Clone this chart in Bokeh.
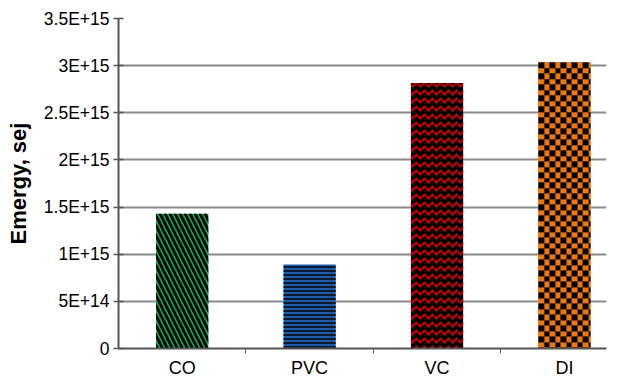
import numpy as np
from bokeh.plotting import figure
from bokeh.models import ColumnDataSource, FixedTicker, Range1d
from bokeh.embed import file_html
from bokeh.resources import INLINE

# ---- data ----
categories = ["CO", "PVC", "VC", "DI"]
emergy = [1.43e15, 0.89e15, 2.815e15, 3.035e15]
y_ticks = [0, 5e14, 1e15, 1.5e15, 2e15, 2.5e15, 3e15, 3.5e15]
y_tick_labels = ["0", "5E+14", "1E+15", "1.5E+15", "2E+15", "2.5E+15", "3E+15", "3.5E+15"]
y_title = "Emergy, sej"

# ---- styles ----
fill_colors = ["#12A84A", "#1F5BA8", "#000000", "#EE7712"]
hatch_patterns = ["left_diagonal_line", "horizontal_line", "horizontal_wave", " "]
hatch_colors = ["#000000", "#0A1A33", "#C00000", "#000000"]
hatch_scales = [10, 4, 8, 10]
hatch_weights = [2.8, 2, 2, 1]
bar_width = 0.41

W, H = 617, 380
B_LEFT, B_RIGHT, B_TOP, B_BOTTOM = 118, 11, 18, 31
X_END, Y_END = 3.83, 3.5e15

xs = [i + 0.5 for i in range(len(categories))]

p = figure(width=W, height=H, output_backend="svg", toolbar_location=None,
           x_range=Range1d(0, X_END), y_range=Range1d(0, Y_END),
           min_border_left=B_LEFT, min_border_right=B_RIGHT, min_border_top=B_TOP,
           min_border_bottom=B_BOTTOM)
p.outline_line_color = None
p.background_fill_color = "white"
p.border_fill_color = "white"

for i in range(len(categories)):
    src = ColumnDataSource(dict(x=[xs[i]], top=[emergy[i]]))
    p.vbar(x="x", top="top", bottom=0, width=bar_width, source=src,
           fill_color=fill_colors[i], line_color=None,
           hatch_pattern=hatch_patterns[i], hatch_color=hatch_colors[i],
           hatch_scale=hatch_scales[i], hatch_weight=hatch_weights[i])

# checkerboard texture for the DI bar (orange / black squares)
px_per_x = (W - B_LEFT - B_RIGHT) / X_END
px_per_y = (H - B_TOP - B_BOTTOM) / Y_END
di = categories.index("DI")
nx = int(round(bar_width * px_per_x))
ny = int(round(emergy[di] * px_per_y))
cell = 5.5
iy, ix = np.mgrid[0:ny, 0:nx]
mask = ((np.floor(ix / cell) + np.floor((ny - 1 - iy) / cell)) % 2).astype(bool)
img = np.empty((ny, nx), dtype=np.uint32)
view = img.view(dtype=np.uint8).reshape((ny, nx, 4))
view[..., 3] = 255
view[..., 0] = np.where(mask, 0xEE, 0x00)
view[..., 1] = np.where(mask, 0x77, 0x00)
view[..., 2] = np.where(mask, 0x12, 0x00)
p.image_rgba(image=[img], x=xs[di] - bar_width / 2, y=0, dw=bar_width, dh=emergy[di])

# x axis
p.xaxis.ticker = FixedTicker(ticks=xs, minor_ticks=[1, 2, 3])
p.xaxis.major_label_overrides = {x: c for x, c in zip(xs, categories)}
p.xaxis.major_tick_line_color = None
p.xaxis.major_tick_out = 5
p.xaxis.minor_tick_line_color = "#555555"
p.xaxis.minor_tick_out = 5
p.xaxis.minor_tick_in = 0
p.xaxis.axis_line_color = "#555555"
p.xaxis.axis_line_width = 2
p.xaxis.major_label_text_font = "Liberation Sans"
p.xaxis.major_label_text_font_size = "18px"
p.xaxis.major_label_text_color = "#000000"
p.xaxis.major_label_standoff = 4
p.xgrid.grid_line_color = None

# y axis
p.yaxis.ticker = FixedTicker(ticks=y_ticks, minor_ticks=[])
p.yaxis.major_label_overrides = {t: l for t, l in zip(y_ticks, y_tick_labels)}
p.yaxis.major_tick_line_color = "#555555"
p.yaxis.major_tick_out = 5
p.yaxis.major_tick_in = 5
p.yaxis.major_tick_line_width = 1.5
p.yaxis.axis_line_color = "#555555"
p.yaxis.axis_line_width = 2
p.yaxis.major_label_text_font = "Liberation Sans"
p.yaxis.major_label_text_font_size = "17.5px"
p.yaxis.major_label_text_color = "#000000"
p.yaxis.major_label_standoff = 4
p.yaxis.axis_label = y_title
p.yaxis.axis_label_text_font = "Liberation Sans"
p.yaxis.axis_label_text_font_size = "22px"
p.yaxis.axis_label_text_font_style = "bold"
p.yaxis.axis_label_text_color = "#000000"
p.yaxis.axis_label_standoff = 10
p.ygrid.grid_line_color = "#8a8a8a"
p.ygrid.grid_line_width = 2

open("out.html", "w").write(file_html(p, INLINE))
